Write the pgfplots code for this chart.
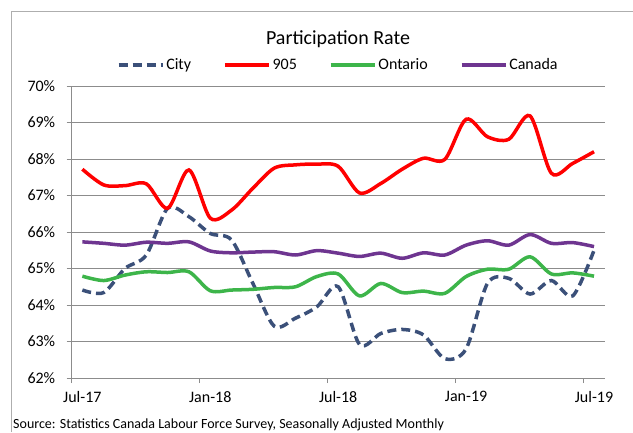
\documentclass[border=0pt]{standalone}
\usepackage{fontspec}
\setmainfont{Carlito}
\usepackage{pgfplots}
\pgfplotsset{compat=1.18}
\usepackage{pgfplotstable}
\definecolor{cityc}{HTML}{3B5079}
\definecolor{redc}{HTML}{FF0000}
\definecolor{ontc}{HTML}{3DB54A}
\definecolor{canc}{HTML}{6E3590}
\definecolor{gridc}{HTML}{8C8C8C}

\pgfplotstableread{
i city r905 ont can
0 64.41 67.72 64.79 65.73
1 64.34 67.29 64.67 65.69
2 65.00 67.27 64.82 65.64
3 65.37 67.32 64.91 65.72
4 66.65 66.65 64.89 65.69
5 66.42 67.70 64.91 65.73
6 65.96 66.38 64.39 65.48
7 65.78 66.60 64.41 65.43
8 64.59 67.20 64.43 65.45
9 63.42 67.75 64.48 65.46
10 63.64 67.84 64.50 65.37
11 63.95 67.86 64.78 65.49
12 64.50 67.80 64.85 65.42
13 62.92 67.07 64.25 65.33
14 63.22 67.33 64.59 65.42
15 63.33 67.72 64.34 65.28
16 63.18 68.02 64.38 65.43
17 62.53 67.99 64.32 65.37
18 62.80 69.09 64.78 65.64
19 64.59 68.61 64.98 65.76
20 64.73 68.54 64.98 65.64
21 64.30 69.18 65.32 65.93
22 64.67 67.61 64.85 65.69
23 64.25 67.88 64.88 65.71
24 65.50 68.20 64.79 65.60
}\datatable

\begin{document}
\begin{tikzpicture}[x=1pt,y=1pt]
\useasboundingbox (0,0) rectangle (633,432);
\draw[gridc!70, line width=1pt] (11,0) -- (11,420) -- (633,420);
\node[font=\fontsize{20}{24}\selectfont] at (338,393) {Participation Rate};
\node[anchor=base west, font=\fontsize{14}{17}\selectfont, inner sep=0pt] at (13,4) {Source: Statistics Canada Labour Force Survey, Seasonally Adjusted Monthly};
\begin{axis}[
  at={(71.7pt,54pt)}, anchor=south west,
  scale only axis, width=533pt, height=292pt,
  xmin=-0.5, xmax=24.5, ymin=62, ymax=70,
  xtick={-0.5,5.5,11.5,17.5,23.5},
  xticklabels={Jul-17,Jan-18,Jul-18,Jan-19,Jul-19},
  xticklabel style={xshift=10.66pt, yshift=-5pt, font=\fontsize{16}{19}\selectfont},
  ytick={62,63,64,65,66,67,68,69,70},
  yticklabels={62\%,63\%,64\%,65\%,66\%,67\%,68\%,69\%,70\%},
  yticklabel style={xshift=-8pt, font=\fontsize{16}{19}\selectfont},
  tick align=outside, tick pos=left, major tick length=5pt,
  tick style={gridc, line width=1pt},
  axis lines*=left,
  axis line style={gridc, line width=1pt},
  ymajorgrids, grid style={gridc, line width=1pt},
  legend columns=4,
  legend style={at={(0.5,1.072)}, anchor=center, draw=none, fill=none,
    font=\fontsize{16}{19}\selectfont,
    /tikz/every even column/.append style={column sep=30pt}},
  legend image code/.code={\draw[#1] (0pt,0pt) -- (44pt,0pt);},
  every axis plot/.append style={line width=3.5pt, smooth, tension=0.5, no markers},
]
\addplot[cityc, dash pattern=on 9pt off 5pt] table[x=i, y=city] {\datatable};
\addlegendentry{City}
\addplot[redc] table[x=i, y=r905] {\datatable};
\addlegendentry{905}
\addplot[ontc] table[x=i, y=ont] {\datatable};
\addlegendentry{Ontario}
\addplot[canc] table[x=i, y=can] {\datatable};
\addlegendentry{Canada}
\end{axis}
\end{tikzpicture}
\end{document}
